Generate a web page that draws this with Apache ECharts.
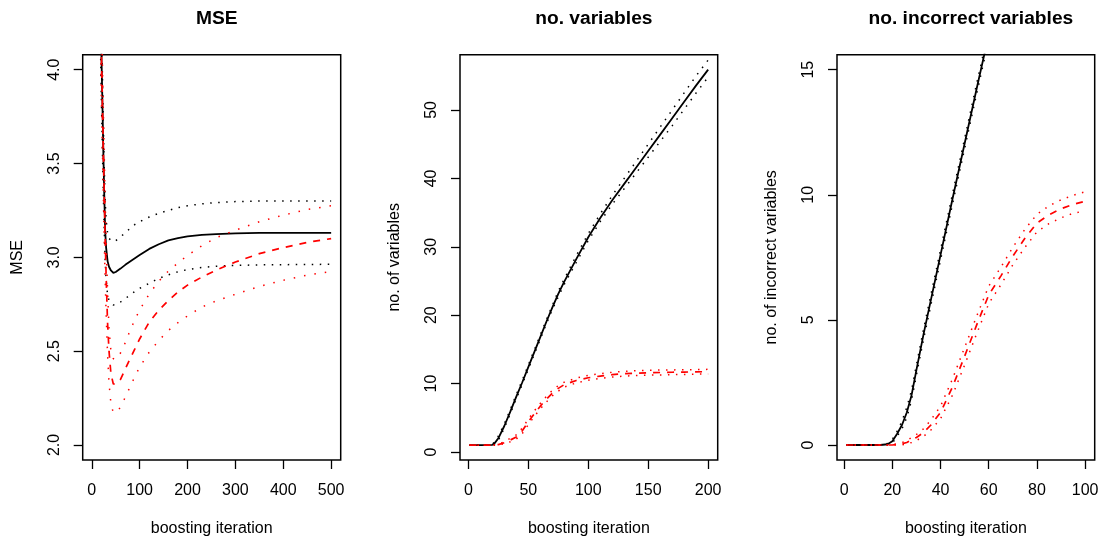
<!DOCTYPE html>
<html>
<head>
<meta charset="utf-8">
<script src="https://cdn.jsdelivr.net/npm/echarts@6/dist/echarts.min.js"></script>
<style>
html,body{margin:0;padding:0;background:#fff;}
#c{width:1102px;height:543px;}
</style>
</head>
<body>
<div id="c"></div>
<script>
// ---------- Panel 1: MSE ----------
const P1_TITLE = 'MSE';
const P1_YNAME = 'MSE';
const P1_XTICKS = [0, 100, 200, 300, 400, 500];
const P1_YTICKS = [2.0, 2.5, 3.0, 3.5, 4.0];
const P1_ITER = [1, 10, 15, 20, 22, 24, 26, 28, 30, 33, 36, 40, 45, 50, 60, 70, 80, 90, 100, 120, 140, 160, 180, 200, 230, 260, 300, 350, 400, 450, 500];
const P1_BLACK_MEAN = [7.5, 5.8, 4.9, 4.1, 3.85, 3.58, 3.34, 3.14, 3.05, 2.98, 2.95, 2.93, 2.917, 2.922, 2.94, 2.96, 2.978, 2.995, 3.012, 3.045, 3.07, 3.09, 3.103, 3.112, 3.12, 3.124, 3.128, 3.13, 3.13, 3.13, 3.13];
const P1_BLACK_UP = [8.0, 6.2, 5.2, 4.3, 4.0, 3.72, 3.48, 3.3, 3.2, 3.13, 3.1, 3.09, 3.083, 3.088, 3.11, 3.13, 3.155, 3.175, 3.19, 3.215, 3.235, 3.25, 3.265, 3.275, 3.285, 3.292, 3.297, 3.3, 3.3, 3.3, 3.3];
const P1_BLACK_LO = [7.0, 5.4, 4.6, 3.85, 3.6, 3.35, 3.15, 2.98, 2.88, 2.8, 2.77, 2.755, 2.746, 2.748, 2.762, 2.78, 2.8, 2.818, 2.835, 2.862, 2.888, 2.907, 2.923, 2.935, 2.946, 2.953, 2.957, 2.96, 2.961, 2.962, 2.963];
const P1_RED_MEAN = [7.5, 5.8, 4.9, 4.1, 3.85, 3.58, 3.34, 3.1, 2.9, 2.65, 2.5, 2.38, 2.325, 2.325, 2.35, 2.405, 2.46, 2.512, 2.565, 2.655, 2.718, 2.77, 2.815, 2.852, 2.895, 2.932, 2.975, 3.02, 3.052, 3.08, 3.1];
const P1_RED_UP = [8.0, 6.2, 5.2, 4.3, 4.05, 3.8, 3.55, 3.3, 3.08, 2.82, 2.62, 2.5, 2.46, 2.455, 2.49, 2.545, 2.61, 2.668, 2.72, 2.805, 2.873, 2.927, 2.97, 3.01, 3.062, 3.105, 3.145, 3.19, 3.225, 3.255, 3.275];
const P1_RED_LO = [7.0, 5.4, 4.6, 3.85, 3.6, 3.35, 3.1, 2.88, 2.7, 2.48, 2.33, 2.22, 2.172, 2.175, 2.2, 2.255, 2.31, 2.365, 2.415, 2.495, 2.557, 2.61, 2.652, 2.688, 2.735, 2.768, 2.803, 2.845, 2.878, 2.905, 2.925];

// ---------- Panel 2: no. variables ----------
const P2_TITLE = 'no. variables';
const P2_YNAME = 'no. of variables';
const P2_XTICKS = [0, 50, 100, 150, 200];
const P2_YTICKS = [0, 10, 20, 30, 40, 50];
const P2_ITER = [1, 10, 20, 22, 25, 30, 35, 40, 45, 50, 55, 60, 65, 70, 75, 80, 90, 100, 110, 120, 130, 140, 150, 160, 170, 180, 190, 200];
const P2_BLACK_MEAN = [1, 1, 1.05, 1.3, 2.0, 3.8, 5.9, 8.1, 10.2, 12.4, 14.6, 16.8, 19.0, 21.1, 23.1, 24.9, 28.2, 31.4, 34.2, 36.8, 39.2, 41.6, 44.0, 46.4, 48.8, 51.2, 53.6, 55.9];
const P2_BLACK_UP = [1, 1, 1.1, 1.5, 2.3, 4.1, 6.2, 8.4, 10.5, 12.7, 14.9, 17.1, 19.3, 21.4, 23.5, 25.3, 28.7, 31.9, 34.8, 37.5, 40.0, 42.5, 45.0, 47.5, 50.0, 52.5, 55.0, 57.3];
const P2_BLACK_LO = [1, 1, 1.0, 1.1, 1.7, 3.5, 5.6, 7.8, 9.9, 12.1, 14.3, 16.5, 18.7, 20.8, 22.7, 24.5, 27.7, 30.9, 33.7, 36.2, 38.5, 40.8, 43.1, 45.4, 47.7, 50.1, 52.5, 54.8];
const P2_RED_MEAN = [1, 1, 1, 1.02, 1.08, 1.35, 1.75, 2.2, 3.1, 4.4, 5.6, 6.7, 7.7, 8.6, 9.3, 9.85, 10.45, 10.85, 11.1, 11.3, 11.45, 11.52, 11.58, 11.62, 11.66, 11.68, 11.72, 11.75];
const P2_RED_UP = [1, 1, 1, 1.05, 1.15, 1.5, 2.0, 2.5, 3.5, 4.8, 6.0, 7.1, 8.1, 9.0, 9.7, 10.2, 10.8, 11.2, 11.45, 11.65, 11.8, 11.88, 11.94, 11.98, 12.0, 12.02, 12.05, 12.08];
const P2_RED_LO = [1, 1, 1, 1.0, 1.02, 1.2, 1.5, 1.9, 2.7, 4.0, 5.2, 6.3, 7.3, 8.2, 8.9, 9.5, 10.1, 10.5, 10.75, 10.95, 11.1, 11.17, 11.23, 11.27, 11.31, 11.34, 11.38, 11.42];

// ---------- Panel 3: no. incorrect variables ----------
const P3_TITLE = 'no. incorrect variables';
const P3_YNAME = 'no. of incorrect variables';
const P3_XTICKS = [0, 20, 40, 60, 80, 100];
const P3_YTICKS = [0, 5, 10, 15];
const P3_ITER = [1, 10, 15, 18, 20, 22, 24, 26, 28, 30, 33, 36, 40, 45, 50, 55, 60, 65, 70, 75, 80, 85, 90, 95, 100];
const P3_BLACK_MEAN = [0, 0, 0, 0.03, 0.15, 0.45, 0.8, 1.3, 2.0, 3.0, 4.45, 5.8, 7.6, 9.85, 12.05, 14.25, 16.4, 18.3, 20.0, 21.8, 23.5, 25.0, 26.5, 28.0, 29.5];
const P3_BLACK_UP = [0, 0, 0, 0.06, 0.22, 0.55, 0.95, 1.5, 2.2, 3.2, 4.65, 6.0, 7.8, 10.05, 12.25, 14.45, 16.6, 18.5, 20.2, 22.0, 23.7, 25.2, 26.7, 28.2, 29.7];
const P3_BLACK_LO = [0, 0, 0, 0.01, 0.08, 0.35, 0.65, 1.1, 1.8, 2.8, 4.25, 5.6, 7.4, 9.65, 11.85, 14.05, 16.2, 18.1, 19.8, 21.6, 23.3, 24.8, 26.3, 27.8, 29.3];
const P3_RED_MEAN = [0, 0, 0, 0, 0, 0.02, 0.05, 0.1, 0.2, 0.3, 0.5, 0.8, 1.3, 2.33, 3.55, 4.8, 6.0, 6.75, 7.55, 8.26, 8.87, 9.2, 9.44, 9.62, 9.74];
const P3_RED_UP = [0, 0, 0, 0, 0.02, 0.05, 0.1, 0.17, 0.3, 0.42, 0.65, 1.0, 1.55, 2.65, 3.9, 5.15, 6.35, 7.1, 7.9, 8.62, 9.22, 9.56, 9.8, 9.98, 10.12];
const P3_RED_LO = [0, 0, 0, 0, 0, 0, 0.01, 0.04, 0.1, 0.18, 0.35, 0.6, 1.05, 2.0, 3.2, 4.45, 5.65, 6.4, 7.2, 7.9, 8.52, 8.85, 9.08, 9.26, 9.36];

// ---------- build ----------
const FONT = 'Liberation Sans, Arial, Helvetica, sans-serif';
const pairs = (xs, ys) => xs.map((x, i) => [x, ys[i]]);

const panels = [
  {title: P1_TITLE, yname: P1_YNAME, xt: P1_XTICKS, yt: P1_YTICKS, it: P1_ITER,
   bm: P1_BLACK_MEAN, bu: P1_BLACK_UP, bl: P1_BLACK_LO, rm: P1_RED_MEAN, ru: P1_RED_UP, rl: P1_RED_LO,
   xr: [-18.96, 519.96], yr: [1.92, 4.08], fmt: v => v.toFixed(1), left: 82.7, width: 258, redDot: [1.5, 9]},
  {title: P2_TITLE, yname: P2_YNAME, xt: P2_XTICKS, yt: P2_YTICKS, it: P2_ITER,
   bm: P2_BLACK_MEAN, bu: P2_BLACK_UP, bl: P2_BLACK_LO, rm: P2_RED_MEAN, ru: P2_RED_UP, rl: P2_RED_LO,
   xr: [-6.96, 207.96], yr: [-1.17, 58.08], fmt: v => String(v), left: 460, width: 257.7, redDot: [1.5, 6.5]},
  {title: P3_TITLE, yname: P3_YNAME, xt: P3_XTICKS, yt: P3_YTICKS, it: P3_ITER,
   bm: P3_BLACK_MEAN, bu: P3_BLACK_UP, bl: P3_BLACK_LO, rm: P3_RED_MEAN, ru: P3_RED_UP, rl: P3_RED_LO,
   xr: [-2.96, 103.96], yr: [-0.6, 15.6], fmt: v => String(v), left: 837, width: 257.7, redDot: [1.5, 6.5]}
];

const TOP = 54.7, HEIGHT = 405.3;
const option = {
  backgroundColor: '#fff',
  animation: false,
  textStyle: {fontFamily: FONT},
  title: [], grid: [], xAxis: [], yAxis: [], series: []
};

panels.forEach((p, i) => {
  option.title.push({
    text: p.title, left: p.left + p.width / 2, top: 4, textAlign: 'center',
    textStyle: {fontFamily: FONT, fontWeight: 'bold', fontSize: 19.2, color: '#000'}
  });
  option.grid.push({
    left: p.left, top: TOP, width: p.width, height: HEIGHT,
    show: true, borderColor: '#000', borderWidth: 1.5, backgroundColor: 'transparent'
  });
  option.xAxis.push({
    type: 'value', gridIndex: i, min: p.xr[0], max: p.xr[1], position: 'bottom',
    name: 'boosting iteration', nameLocation: 'middle', nameGap: 61,
    nameTextStyle: {fontFamily: FONT, fontSize: 16, color: '#000'},
    axisLine: {show: false, onZero: false},
    axisTick: {show: true, inside: false, length: 9, customValues: p.xt, lineStyle: {color: '#000', width: 1.3}},
    axisLabel: {show: true, margin: 23, customValues: p.xt, fontFamily: FONT, fontSize: 16, color: '#000'},
    splitLine: {show: false}
  });
  option.yAxis.push({
    type: 'value', gridIndex: i, min: p.yr[0], max: p.yr[1], position: 'left',
    name: p.yname, nameLocation: 'middle', nameGap: 57,
    nameTextStyle: {fontFamily: FONT, fontSize: 16, color: '#000'},
    axisLine: {show: false, onZero: false},
    axisTick: {show: true, inside: false, length: 9, customValues: p.yt, lineStyle: {color: '#000', width: 1.3}},
    axisLabel: {show: true, rotate: 90, margin: 20, customValues: p.yt, formatter: p.fmt, fontFamily: FONT, fontSize: 16, color: '#000'},
    splitLine: {show: false}
  });
  const mk = (data, color, type, width) => ({
    type: 'line', xAxisIndex: i, yAxisIndex: i, data: pairs(p.it, data),
    showSymbol: false, symbol: 'none', clip: true, silent: true,
    lineStyle: {color: color, width: width, type: type}
  });
  option.series.push(mk(p.bu, '#000', [1.5, 6.5], 1.5));
  option.series.push(mk(p.bl, '#000', [1.5, 6.5], 1.5));
  option.series.push(mk(p.bm, '#000', 'solid', 1.8));
  option.series.push(mk(p.ru, '#ff0000', p.redDot, 1.5));
  option.series.push(mk(p.rl, '#ff0000', p.redDot, 1.5));
  option.series.push(mk(p.rm, '#ff0000', [7, 7], 1.7));
});

const chart = echarts.init(document.getElementById('c'), null, {renderer: 'canvas'});
chart.setOption(option);
</script>
</body>
</html>
